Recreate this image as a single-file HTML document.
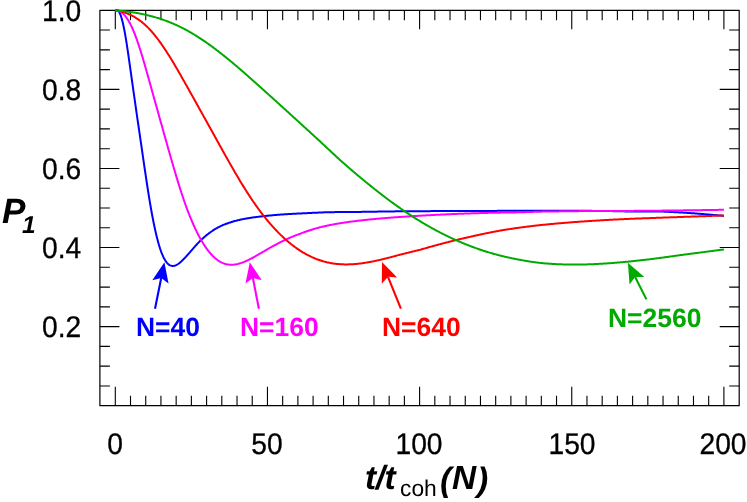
<!DOCTYPE html><html><head><meta charset="utf-8"><style>
html,body{margin:0;padding:0;background:#fff}
#c{position:relative;width:747px;height:502px;overflow:hidden;background:#fff;font-family:"Liberation Sans",sans-serif;color:#000}
.t{position:absolute;white-space:nowrap;line-height:1;text-rendering:geometricPrecision;will-change:transform}
.yl,.xl{-webkit-text-stroke:0.3px #000}
.yl{font-size:28.2px;right:666px;text-align:right;transform-origin:100% 84.65%;transform:scaleY(1.06)}
.xl{font-size:28.2px;transform-origin:0 84.65%;transform:translateX(-50%) scaleY(1.06)}
.nl{font-size:26.45px;font-weight:bold}
.bi{font-weight:bold;font-style:italic}
</style></head><body><div id="c">
<svg width="747" height="502" viewBox="0 0 747 502" style="position:absolute;left:0;top:0">
<path d="M115.30,10.30v19.00M115.30,405.70v-19.00M130.51,10.30v10.00M130.51,405.70v-10.00M145.73,10.30v10.00M145.73,405.70v-10.00M160.94,10.30v10.00M160.94,405.70v-10.00M176.16,10.30v10.00M176.16,405.70v-10.00M191.38,10.30v10.00M191.38,405.70v-10.00M206.59,10.30v10.00M206.59,405.70v-10.00M221.81,10.30v10.00M221.81,405.70v-10.00M237.02,10.30v10.00M237.02,405.70v-10.00M252.24,10.30v10.00M252.24,405.70v-10.00M267.45,10.30v19.00M267.45,405.70v-19.00M282.67,10.30v10.00M282.67,405.70v-10.00M297.88,10.30v10.00M297.88,405.70v-10.00M313.10,10.30v10.00M313.10,405.70v-10.00M328.31,10.30v10.00M328.31,405.70v-10.00M343.53,10.30v10.00M343.53,405.70v-10.00M358.74,10.30v10.00M358.74,405.70v-10.00M373.96,10.30v10.00M373.96,405.70v-10.00M389.17,10.30v10.00M389.17,405.70v-10.00M404.39,10.30v10.00M404.39,405.70v-10.00M419.60,10.30v19.00M419.60,405.70v-19.00M434.82,10.30v10.00M434.82,405.70v-10.00M450.03,10.30v10.00M450.03,405.70v-10.00M465.25,10.30v10.00M465.25,405.70v-10.00M480.46,10.30v10.00M480.46,405.70v-10.00M495.68,10.30v10.00M495.68,405.70v-10.00M510.89,10.30v10.00M510.89,405.70v-10.00M526.11,10.30v10.00M526.11,405.70v-10.00M541.32,10.30v10.00M541.32,405.70v-10.00M556.53,10.30v10.00M556.53,405.70v-10.00M571.75,10.30v19.00M571.75,405.70v-19.00M586.97,10.30v10.00M586.97,405.70v-10.00M602.18,10.30v10.00M602.18,405.70v-10.00M617.39,10.30v10.00M617.39,405.70v-10.00M632.61,10.30v10.00M632.61,405.70v-10.00M647.82,10.30v10.00M647.82,405.70v-10.00M663.04,10.30v10.00M663.04,405.70v-10.00M678.25,10.30v10.00M678.25,405.70v-10.00M693.47,10.30v10.00M693.47,405.70v-10.00M708.68,10.30v10.00M708.68,405.70v-10.00M723.90,10.30v19.00M723.90,405.70v-19.00M99.90,385.93h10.00M739.20,385.93h-10.00M99.90,366.16h10.00M739.20,366.16h-10.00M99.90,346.39h10.00M739.20,346.39h-10.00M99.90,326.62h19.50M739.20,326.62h-19.50M99.90,306.85h10.00M739.20,306.85h-10.00M99.90,287.08h10.00M739.20,287.08h-10.00M99.90,267.31h10.00M739.20,267.31h-10.00M99.90,247.54h19.50M739.20,247.54h-19.50M99.90,227.77h10.00M739.20,227.77h-10.00M99.90,208.00h10.00M739.20,208.00h-10.00M99.90,188.23h10.00M739.20,188.23h-10.00M99.90,168.46h19.50M739.20,168.46h-19.50M99.90,148.69h10.00M739.20,148.69h-10.00M99.90,128.92h10.00M739.20,128.92h-10.00M99.90,109.15h10.00M739.20,109.15h-10.00M99.90,89.38h19.50M739.20,89.38h-19.50M99.90,69.61h10.00M739.20,69.61h-10.00M99.90,49.84h10.00M739.20,49.84h-10.00M99.90,30.07h10.00M739.20,30.07h-10.00" stroke="#000" stroke-width="1.1" fill="none"/>
<rect x="99.90" y="10.30" width="639.30" height="395.40" fill="none" stroke="#000" stroke-width="1.2" stroke-linejoin="round"/>
<path d="M115.30,10.30 L116.06,10.30 L116.82,10.30 L117.58,10.30 L118.34,10.64 L119.10,11.74 L119.86,13.25 L120.63,15.15 L121.39,17.45 L122.15,20.14 L122.91,23.21 L123.67,26.67 L124.43,30.50 L125.19,34.68 L125.95,39.16 L126.71,43.91 L127.47,48.88 L128.23,54.02 L128.99,59.30 L129.75,64.67 L130.51,70.10 L131.28,75.55 L132.04,80.99 L132.80,86.42 L133.56,91.80 L134.32,97.15 L135.08,102.47 L135.84,107.75 L136.60,113.02 L137.36,118.27 L138.12,123.50 L138.88,128.73 L139.64,133.95 L140.40,139.18 L141.17,144.41 L141.93,149.64 L142.69,154.88 L143.45,160.11 L144.21,165.32 L144.97,170.51 L145.73,175.65 L146.49,180.73 L147.25,185.73 L148.01,190.64 L148.77,195.44 L149.53,200.11 L150.29,204.64 L151.06,209.01 L151.82,213.24 L152.58,217.30 L153.34,221.21 L154.10,224.96 L154.86,228.54 L155.62,231.96 L156.38,235.21 L157.14,238.28 L157.90,241.18 L158.66,243.91 L159.42,246.46 L160.18,248.83 L160.94,251.03 L161.71,253.07 L162.47,254.94 L163.23,256.65 L163.99,258.20 L164.75,259.60 L165.51,260.84 L166.27,261.94 L167.03,262.89 L167.79,263.70 L168.55,264.37 L169.31,264.91 L170.07,265.34 L170.83,265.64 L171.60,265.84 L172.36,265.94 L173.12,265.94 L173.88,265.85 L174.64,265.68 L175.40,265.43 L176.16,265.11 L176.92,264.72 L177.68,264.28 L178.44,263.77 L179.20,263.22 L179.96,262.61 L180.72,261.96 L181.49,261.28 L182.25,260.56 L183.01,259.81 L183.77,259.03 L184.53,258.24 L185.29,257.43 L186.05,256.60 L186.81,255.76 L187.57,254.91 L188.33,254.05 L189.09,253.19 L189.85,252.31 L190.61,251.44 L191.38,250.56 L192.14,249.68 L192.90,248.80 L193.66,247.93 L194.42,247.06 L195.18,246.20 L195.94,245.35 L196.70,244.52 L197.46,243.69 L198.22,242.88 L198.98,242.08 L199.74,241.29 L200.50,240.54 L201.26,239.81 L202.03,239.10 L202.79,238.41 L203.55,237.72 L204.31,237.05 L205.07,236.40 L205.83,235.76 L206.59,235.14 L207.35,234.53 L208.11,233.94 L208.87,233.36 L209.63,232.80 L210.39,232.25 L211.15,231.73 L211.92,231.22 L212.68,230.69 L213.44,230.18 L214.20,229.68 L214.96,229.21 L215.72,228.74 L216.48,228.30 L217.24,227.87 L218.00,227.45 L218.76,227.05 L219.52,226.67 L220.28,226.29 L221.04,225.93 L221.81,225.58 L222.57,225.25 L223.33,224.92 L224.09,224.61 L224.85,224.31 L225.61,224.01 L226.37,223.73 L227.13,223.45 L227.89,223.19 L228.65,222.93 L229.41,222.67 L230.17,222.43 L230.93,222.19 L231.69,221.95 L232.46,221.73 L233.22,221.51 L233.98,221.29 L234.74,221.08 L235.50,220.87 L236.26,220.67 L237.02,220.48 L237.78,220.29 L238.54,220.11 L239.30,219.93 L240.06,219.76 L240.82,219.59 L241.58,219.42 L242.35,219.26 L243.11,219.11 L243.87,218.96 L244.63,218.81 L245.39,218.67 L246.15,218.53 L246.91,218.40 L247.67,218.27 L248.43,218.14 L249.19,218.02 L249.95,217.90 L250.71,217.78 L251.47,217.67 L252.24,217.56 L253.00,217.45 L253.76,217.35 L254.52,217.25 L255.28,217.15 L256.04,217.06 L256.80,216.96 L257.56,216.87 L258.32,216.78 L259.08,216.70 L259.84,216.61 L260.60,216.52 L261.36,216.43 L262.12,216.34 L262.89,216.25 L263.65,216.17 L264.41,216.08 L265.17,216.00 L265.93,215.92 L266.69,215.84 L267.45,215.76 L268.21,215.68 L268.97,215.61 L269.73,215.53 L270.49,215.46 L271.25,215.39 L272.01,215.32 L272.78,215.25 L273.54,215.18 L274.30,215.11 L275.06,215.04 L275.82,214.98 L276.58,214.92 L277.34,214.85 L278.10,214.79 L278.86,214.73 L279.62,214.67 L280.38,214.61 L281.14,214.55 L281.90,214.50 L282.67,214.44 L283.43,214.38 L284.19,214.33 L284.95,214.27 L285.71,214.23 L286.47,214.18 L287.23,214.14 L287.99,214.10 L288.75,214.06 L289.51,214.01 L290.27,213.97 L291.03,213.93 L291.79,213.89 L292.55,213.85 L293.32,213.81 L294.08,213.77 L294.84,213.73 L295.60,213.70 L296.36,213.66 L297.12,213.62 L297.88,213.58 L298.64,213.54 L299.40,213.50 L300.16,213.47 L300.92,213.43 L301.68,213.39 L302.44,213.35 L303.21,213.31 L303.97,213.28 L304.73,213.24 L305.49,213.20 L306.25,213.16 L307.01,213.13 L307.77,213.09 L308.53,213.05 L309.29,213.02 L310.05,212.98 L310.81,212.94 L311.57,212.91 L312.33,212.87 L313.10,212.84 L313.86,212.80 L314.62,212.77 L315.38,212.73 L316.14,212.70 L316.90,212.66 L317.66,212.63 L318.42,212.60 L319.18,212.56 L319.94,212.53 L320.70,212.50 L321.46,212.46 L322.22,212.43 L322.98,212.40 L323.75,212.37 L324.51,212.34 L325.27,212.31 L326.03,212.28 L326.79,212.25 L327.55,212.22 L328.31,212.19 L329.07,212.18 L329.83,212.18 L330.59,212.17 L331.35,212.16 L332.11,212.15 L332.87,212.15 L333.64,212.14 L334.40,212.13 L335.16,212.12 L335.92,212.12 L336.68,212.11 L337.44,212.10 L338.20,212.09 L338.96,212.09 L339.72,212.08 L340.48,212.07 L341.24,212.07 L342.00,212.06 L342.76,212.05 L343.53,212.04 L344.29,212.04 L345.05,212.03 L345.81,212.02 L346.57,212.02 L347.33,212.01 L348.09,212.00 L348.85,211.99 L349.61,211.99 L350.37,211.98 L351.13,211.97 L351.89,211.97 L352.65,211.96 L353.41,211.95 L354.18,211.95 L354.94,211.94 L355.70,211.93 L356.46,211.93 L357.22,211.92 L357.98,211.91 L358.74,211.91 L359.50,211.90 L360.26,211.89 L361.02,211.88 L361.78,211.87 L362.54,211.86 L363.30,211.84 L364.07,211.83 L364.83,211.82 L365.59,211.81 L366.35,211.80 L367.11,211.78 L367.87,211.77 L368.63,211.76 L369.39,211.75 L370.15,211.74 L370.91,211.72 L371.67,211.71 L372.43,211.70 L373.19,211.69 L373.96,211.68 L374.72,211.67 L375.48,211.65 L376.24,211.64 L377.00,211.63 L377.76,211.62 L378.52,211.61 L379.28,211.60 L380.04,211.59 L380.80,211.57 L381.56,211.56 L382.32,211.55 L383.08,211.54 L383.84,211.53 L384.61,211.52 L385.37,211.51 L386.13,211.50 L386.89,211.48 L387.65,211.47 L388.41,211.46 L389.17,211.45 L389.93,211.44 L390.69,211.43 L391.45,211.42 L392.21,211.41 L392.97,211.40 L393.73,211.39 L394.50,211.38 L395.26,211.37 L396.02,211.36 L396.78,211.34 L397.54,211.33 L398.30,211.32 L399.06,211.31 L399.82,211.30 L400.58,211.30 L401.34,211.29 L402.10,211.29 L402.86,211.28 L403.62,211.28 L404.39,211.27 L405.15,211.27 L405.91,211.26 L406.67,211.26 L407.43,211.25 L408.19,211.25 L408.95,211.25 L409.71,211.24 L410.47,211.24 L411.23,211.23 L411.99,211.23 L412.75,211.22 L413.51,211.22 L414.27,211.21 L415.04,211.21 L415.80,211.21 L416.56,211.20 L417.32,211.20 L418.08,211.19 L418.84,211.19 L419.60,211.18 L420.36,211.18 L421.12,211.18 L421.88,211.17 L422.64,211.17 L423.40,211.16 L424.16,211.16 L424.93,211.16 L425.69,211.15 L426.45,211.15 L427.21,211.14 L427.97,211.14 L428.73,211.14 L429.49,211.13 L430.25,211.13 L431.01,211.12 L431.77,211.12 L432.53,211.12 L433.29,211.11 L434.05,211.11 L434.82,211.11 L435.58,211.10 L436.34,211.10 L437.10,211.09 L437.86,211.09 L438.62,211.09 L439.38,211.08 L440.14,211.08 L440.90,211.08 L441.66,211.07 L442.42,211.07 L443.18,211.07 L443.94,211.06 L444.70,211.06 L445.47,211.06 L446.23,211.05 L446.99,211.05 L447.75,211.05 L448.51,211.04 L449.27,211.04 L450.03,211.04 L450.79,211.03 L451.55,211.03 L452.31,211.03 L453.07,211.03 L453.83,211.02 L454.59,211.02 L455.36,211.02 L456.12,211.01 L456.88,211.01 L457.64,211.01 L458.40,211.01 L459.16,211.00 L459.92,211.00 L460.68,211.00 L461.44,211.00 L462.20,210.99 L462.96,210.99 L463.72,210.99 L464.48,210.98 L465.25,210.98 L466.01,210.98 L466.77,210.98 L467.53,210.97 L468.29,210.97 L469.05,210.97 L469.81,210.97 L470.57,210.96 L471.33,210.96 L472.09,210.96 L472.85,210.96 L473.61,210.95 L474.37,210.95 L475.13,210.95 L475.90,210.94 L476.66,210.94 L477.42,210.94 L478.18,210.94 L478.94,210.93 L479.70,210.93 L480.46,210.93 L481.22,210.93 L481.98,210.92 L482.74,210.92 L483.50,210.92 L484.26,210.92 L485.02,210.91 L485.79,210.91 L486.55,210.91 L487.31,210.91 L488.07,210.90 L488.83,210.90 L489.59,210.90 L490.35,210.90 L491.11,210.89 L491.87,210.89 L492.63,210.89 L493.39,210.89 L494.15,210.88 L494.91,210.88 L495.68,210.88 L496.44,210.88 L497.20,210.87 L497.96,210.87 L498.72,210.87 L499.48,210.87 L500.24,210.87 L501.00,210.86 L501.76,210.86 L502.52,210.86 L503.28,210.86 L504.04,210.85 L504.80,210.85 L505.56,210.85 L506.33,210.85 L507.09,210.85 L507.85,210.84 L508.61,210.84 L509.37,210.84 L510.13,210.84 L510.89,210.84 L511.65,210.84 L512.41,210.83 L513.17,210.83 L513.93,210.83 L514.69,210.83 L515.45,210.83 L516.22,210.83 L516.98,210.82 L517.74,210.82 L518.50,210.82 L519.26,210.82 L520.02,210.82 L520.78,210.82 L521.54,210.82 L522.30,210.81 L523.06,210.81 L523.82,210.81 L524.58,210.81 L525.34,210.81 L526.11,210.81 L526.87,210.81 L527.63,210.81 L528.39,210.81 L529.15,210.81 L529.91,210.80 L530.67,210.80 L531.43,210.80 L532.19,210.80 L532.95,210.80 L533.71,210.80 L534.47,210.80 L535.23,210.80 L535.99,210.80 L536.76,210.80 L537.52,210.80 L538.28,210.80 L539.04,210.80 L539.80,210.80 L540.56,210.80 L541.32,210.80 L542.08,210.80 L542.84,210.80 L543.60,210.80 L544.36,210.80 L545.12,210.80 L545.88,210.80 L546.65,210.80 L547.41,210.80 L548.17,210.80 L548.93,210.80 L549.69,210.80 L550.45,210.80 L551.21,210.80 L551.97,210.80 L552.73,210.80 L553.49,210.80 L554.25,210.81 L555.01,210.81 L555.77,210.81 L556.53,210.81 L557.30,210.81 L558.06,210.81 L558.82,210.81 L559.58,210.81 L560.34,210.81 L561.10,210.81 L561.86,210.81 L562.62,210.81 L563.38,210.81 L564.14,210.82 L564.90,210.82 L565.66,210.82 L566.42,210.82 L567.19,210.82 L567.95,210.82 L568.71,210.82 L569.47,210.82 L570.23,210.82 L570.99,210.83 L571.75,210.83 L572.51,210.83 L573.27,210.83 L574.03,210.83 L574.79,210.83 L575.55,210.83 L576.31,210.84 L577.08,210.84 L577.84,210.84 L578.60,210.84 L579.36,210.84 L580.12,210.84 L580.88,210.85 L581.64,210.85 L582.40,210.85 L583.16,210.85 L583.92,210.85 L584.68,210.85 L585.44,210.86 L586.20,210.86 L586.97,210.86 L587.73,210.86 L588.49,210.86 L589.25,210.87 L590.01,210.87 L590.77,210.87 L591.53,210.87 L592.29,210.88 L593.05,210.88 L593.81,210.88 L594.57,210.88 L595.33,210.88 L596.09,210.89 L596.85,210.89 L597.62,210.89 L598.38,210.89 L599.14,210.90 L599.90,210.90 L600.66,210.90 L601.42,210.91 L602.18,210.91 L602.94,210.92 L603.70,210.93 L604.46,210.94 L605.22,210.96 L605.98,210.97 L606.74,210.98 L607.51,211.00 L608.27,211.02 L609.03,211.03 L609.79,211.05 L610.55,211.07 L611.31,211.09 L612.07,211.11 L612.83,211.13 L613.59,211.15 L614.35,211.16 L615.11,211.18 L615.87,211.20 L616.63,211.22 L617.39,211.24 L618.16,211.26 L618.92,211.28 L619.68,211.29 L620.44,211.31 L621.20,211.32 L621.96,211.34 L622.72,211.35 L623.48,211.36 L624.24,211.37 L625.00,211.38 L625.76,211.39 L626.52,211.40 L627.28,211.40 L628.05,211.41 L628.81,211.41 L629.57,211.41 L630.33,211.42 L631.09,211.42 L631.85,211.42 L632.61,211.42 L633.37,211.43 L634.13,211.43 L634.89,211.43 L635.65,211.43 L636.41,211.43 L637.17,211.44 L637.94,211.44 L638.70,211.44 L639.46,211.44 L640.22,211.44 L640.98,211.44 L641.74,211.44 L642.50,211.45 L643.26,211.45 L644.02,211.45 L644.78,211.45 L645.54,211.45 L646.30,211.45 L647.06,211.45 L647.82,211.46 L648.59,211.46 L649.35,211.46 L650.11,211.46 L650.87,211.46 L651.63,211.47 L652.39,211.47 L653.15,211.47 L653.91,211.47 L654.67,211.48 L655.43,211.48 L656.19,211.48 L656.95,211.49 L657.71,211.49 L658.48,211.50 L659.24,211.50 L660.00,211.51 L660.76,211.52 L661.52,211.54 L662.28,211.56 L663.04,211.58 L663.80,211.61 L664.56,211.64 L665.32,211.67 L666.08,211.71 L666.84,211.75 L667.60,211.79 L668.37,211.83 L669.13,211.87 L669.89,211.91 L670.65,211.95 L671.41,212.00 L672.17,212.04 L672.93,212.08 L673.69,212.12 L674.45,212.16 L675.21,212.20 L675.97,212.24 L676.73,212.28 L677.49,212.32 L678.25,212.36 L679.02,212.40 L679.78,212.44 L680.54,212.48 L681.30,212.53 L682.06,212.57 L682.82,212.62 L683.58,212.66 L684.34,212.71 L685.10,212.75 L685.86,212.80 L686.62,212.85 L687.38,212.89 L688.14,212.94 L688.91,212.99 L689.67,213.04 L690.43,213.09 L691.19,213.14 L691.95,213.19 L692.71,213.25 L693.47,213.30 L694.23,213.36 L694.99,213.41 L695.75,213.47 L696.51,213.53 L697.27,213.58 L698.03,213.64 L698.80,213.70 L699.56,213.76 L700.32,213.82 L701.08,213.88 L701.84,213.95 L702.60,214.01 L703.36,214.07 L704.12,214.13 L704.88,214.20 L705.64,214.26 L706.40,214.32 L707.16,214.39 L707.92,214.45 L708.68,214.52 L709.45,214.58 L710.21,214.65 L710.97,214.71 L711.73,214.78 L712.49,214.85 L713.25,214.91 L714.01,214.98 L714.77,215.05 L715.53,215.12 L716.29,215.19 L717.05,215.26 L717.81,215.33 L718.57,215.40 L719.34,215.47 L720.10,215.54 L720.86,215.61 L721.62,215.68 L722.38,215.75 L723.14,215.83 L723.90,215.90" stroke="#0000ff" stroke-width="2.0" fill="none" stroke-linejoin="round"/>
<path d="M115.30,10.30 L116.06,10.32 L116.82,10.41 L117.58,10.56 L118.34,10.78 L119.10,11.07 L119.86,11.43 L120.63,11.87 L121.39,12.37 L122.15,12.95 L122.91,13.60 L123.67,14.32 L124.43,15.13 L125.19,16.00 L125.95,16.96 L126.71,18.00 L127.47,19.11 L128.23,20.31 L128.99,21.59 L129.75,22.94 L130.51,24.39 L131.28,25.92 L132.04,27.53 L132.80,29.24 L133.56,31.02 L134.32,32.89 L135.08,34.84 L135.84,36.87 L136.60,38.96 L137.36,41.13 L138.12,43.35 L138.88,45.64 L139.64,47.98 L140.40,50.38 L141.17,52.82 L141.93,55.31 L142.69,57.84 L143.45,60.40 L144.21,63.00 L144.97,65.63 L145.73,68.29 L146.49,70.96 L147.25,73.65 L148.01,76.36 L148.77,79.08 L149.53,81.80 L150.29,84.53 L151.06,87.26 L151.82,89.98 L152.58,92.71 L153.34,95.43 L154.10,98.16 L154.86,100.88 L155.62,103.61 L156.38,106.33 L157.14,109.05 L157.90,111.77 L158.66,114.49 L159.42,117.21 L160.18,119.93 L160.94,122.64 L161.71,125.35 L162.47,128.06 L163.23,130.77 L163.99,133.48 L164.75,136.18 L165.51,138.88 L166.27,141.58 L167.03,144.27 L167.79,146.96 L168.55,149.65 L169.31,152.33 L170.07,155.00 L170.83,157.67 L171.60,160.32 L172.36,162.95 L173.12,165.58 L173.88,168.18 L174.64,170.77 L175.40,173.33 L176.16,175.88 L176.92,178.40 L177.68,180.89 L178.44,183.36 L179.20,185.80 L179.96,188.21 L180.72,190.59 L181.49,192.94 L182.25,195.25 L183.01,197.52 L183.77,199.76 L184.53,201.96 L185.29,204.12 L186.05,206.24 L186.81,208.32 L187.57,210.35 L188.33,212.35 L189.09,214.30 L189.85,216.22 L190.61,218.09 L191.38,219.93 L192.14,221.73 L192.90,223.48 L193.66,225.20 L194.42,226.88 L195.18,228.52 L195.94,230.12 L196.70,231.68 L197.46,233.21 L198.22,234.69 L198.98,236.14 L199.74,237.55 L200.50,238.92 L201.26,240.25 L202.03,241.55 L202.79,242.81 L203.55,244.03 L204.31,245.22 L205.07,246.36 L205.83,247.47 L206.59,248.55 L207.35,249.59 L208.11,250.59 L208.87,251.55 L209.63,252.48 L210.39,253.38 L211.15,254.23 L211.92,255.06 L212.68,255.84 L213.44,256.60 L214.20,257.31 L214.96,257.99 L215.72,258.64 L216.48,259.25 L217.24,259.83 L218.00,260.37 L218.76,260.88 L219.52,261.36 L220.28,261.80 L221.04,262.20 L221.81,262.58 L222.57,262.92 L223.33,263.23 L224.09,263.51 L224.85,263.76 L225.61,263.98 L226.37,264.17 L227.13,264.33 L227.89,264.47 L228.65,264.58 L229.41,264.65 L230.17,264.71 L230.93,264.74 L231.69,264.74 L232.46,264.72 L233.22,264.67 L233.98,264.60 L234.74,264.51 L235.50,264.40 L236.26,264.27 L237.02,264.12 L237.78,263.95 L238.54,263.76 L239.30,263.55 L240.06,263.33 L240.82,263.09 L241.58,262.84 L242.35,262.57 L243.11,262.28 L243.87,261.99 L244.63,261.68 L245.39,261.35 L246.15,261.02 L246.91,260.68 L247.67,260.32 L248.43,259.96 L249.19,259.58 L249.95,259.20 L250.71,258.81 L251.47,258.41 L252.24,258.01 L253.00,257.60 L253.76,257.18 L254.52,256.76 L255.28,256.34 L256.04,255.91 L256.80,255.48 L257.56,255.05 L258.32,254.61 L259.08,254.17 L259.84,253.73 L260.60,253.29 L261.36,252.84 L262.12,252.40 L262.89,251.95 L263.65,251.50 L264.41,251.05 L265.17,250.61 L265.93,250.16 L266.69,249.71 L267.45,249.26 L268.21,248.82 L268.97,248.37 L269.73,247.93 L270.49,247.50 L271.25,247.07 L272.01,246.65 L272.78,246.24 L273.54,245.82 L274.30,245.41 L275.06,245.00 L275.82,244.59 L276.58,244.19 L277.34,243.79 L278.10,243.40 L278.86,243.00 L279.62,242.62 L280.38,242.23 L281.14,241.85 L281.90,241.47 L282.67,241.10 L283.43,240.73 L284.19,240.37 L284.95,240.00 L285.71,239.65 L286.47,239.29 L287.23,238.94 L287.99,238.60 L288.75,238.25 L289.51,237.92 L290.27,237.58 L291.03,237.27 L291.79,236.95 L292.55,236.64 L293.32,236.33 L294.08,236.03 L294.84,235.73 L295.60,235.43 L296.36,235.14 L297.12,234.85 L297.88,234.57 L298.64,234.29 L299.40,234.02 L300.16,233.74 L300.92,233.44 L301.68,233.15 L302.44,232.86 L303.21,232.57 L303.97,232.29 L304.73,232.01 L305.49,231.74 L306.25,231.47 L307.01,231.21 L307.77,230.95 L308.53,230.69 L309.29,230.44 L310.05,230.19 L310.81,229.95 L311.57,229.71 L312.33,229.47 L313.10,229.24 L313.86,229.01 L314.62,228.79 L315.38,228.57 L316.14,228.36 L316.90,228.15 L317.66,227.94 L318.42,227.74 L319.18,227.54 L319.94,227.34 L320.70,227.15 L321.46,226.96 L322.22,226.78 L322.98,226.59 L323.75,226.41 L324.51,226.24 L325.27,226.07 L326.03,225.90 L326.79,225.73 L327.55,225.57 L328.31,225.41 L329.07,225.25 L329.83,225.10 L330.59,224.94 L331.35,224.79 L332.11,224.65 L332.87,224.50 L333.64,224.36 L334.40,224.22 L335.16,224.08 L335.92,223.95 L336.68,223.82 L337.44,223.69 L338.20,223.56 L338.96,223.43 L339.72,223.31 L340.48,223.19 L341.24,223.06 L342.00,222.95 L342.76,222.83 L343.53,222.71 L344.29,222.60 L345.05,222.49 L345.81,222.37 L346.57,222.26 L347.33,222.16 L348.09,222.05 L348.85,221.94 L349.61,221.84 L350.37,221.73 L351.13,221.63 L351.89,221.53 L352.65,221.43 L353.41,221.33 L354.18,221.23 L354.94,221.14 L355.70,221.04 L356.46,220.95 L357.22,220.85 L357.98,220.76 L358.74,220.67 L359.50,220.58 L360.26,220.49 L361.02,220.41 L361.78,220.32 L362.54,220.23 L363.30,220.15 L364.07,220.06 L364.83,219.98 L365.59,219.90 L366.35,219.82 L367.11,219.74 L367.87,219.66 L368.63,219.58 L369.39,219.50 L370.15,219.43 L370.91,219.35 L371.67,219.28 L372.43,219.20 L373.19,219.13 L373.96,219.06 L374.72,218.99 L375.48,218.92 L376.24,218.85 L377.00,218.78 L377.76,218.71 L378.52,218.64 L379.28,218.58 L380.04,218.51 L380.80,218.44 L381.56,218.38 L382.32,218.32 L383.08,218.25 L383.84,218.19 L384.61,218.13 L385.37,218.07 L386.13,218.01 L386.89,217.95 L387.65,217.89 L388.41,217.83 L389.17,217.77 L389.93,217.71 L390.69,217.65 L391.45,217.59 L392.21,217.54 L392.97,217.48 L393.73,217.43 L394.50,217.37 L395.26,217.32 L396.02,217.26 L396.78,217.21 L397.54,217.16 L398.30,217.10 L399.06,217.05 L399.82,217.00 L400.58,216.95 L401.34,216.89 L402.10,216.84 L402.86,216.79 L403.62,216.74 L404.39,216.69 L405.15,216.64 L405.91,216.59 L406.67,216.54 L407.43,216.49 L408.19,216.44 L408.95,216.39 L409.71,216.35 L410.47,216.30 L411.23,216.25 L411.99,216.20 L412.75,216.16 L413.51,216.11 L414.27,216.06 L415.04,216.02 L415.80,215.97 L416.56,215.92 L417.32,215.88 L418.08,215.83 L418.84,215.79 L419.60,215.74 L420.36,215.70 L421.12,215.65 L421.88,215.61 L422.64,215.57 L423.40,215.52 L424.16,215.48 L424.93,215.44 L425.69,215.40 L426.45,215.35 L427.21,215.31 L427.97,215.27 L428.73,215.23 L429.49,215.19 L430.25,215.15 L431.01,215.11 L431.77,215.07 L432.53,215.03 L433.29,214.99 L434.05,214.95 L434.82,214.91 L435.58,214.87 L436.34,214.83 L437.10,214.79 L437.86,214.76 L438.62,214.72 L439.38,214.68 L440.14,214.64 L440.90,214.61 L441.66,214.57 L442.42,214.53 L443.18,214.50 L443.94,214.46 L444.70,214.43 L445.47,214.39 L446.23,214.36 L446.99,214.32 L447.75,214.29 L448.51,214.25 L449.27,214.22 L450.03,214.19 L450.79,214.15 L451.55,214.12 L452.31,214.09 L453.07,214.06 L453.83,214.03 L454.59,213.99 L455.36,213.96 L456.12,213.93 L456.88,213.90 L457.64,213.87 L458.40,213.84 L459.16,213.81 L459.92,213.78 L460.68,213.75 L461.44,213.72 L462.20,213.69 L462.96,213.67 L463.72,213.64 L464.48,213.61 L465.25,213.58 L466.01,213.56 L466.77,213.53 L467.53,213.50 L468.29,213.48 L469.05,213.45 L469.81,213.42 L470.57,213.40 L471.33,213.37 L472.09,213.35 L472.85,213.32 L473.61,213.30 L474.37,213.27 L475.13,213.25 L475.90,213.23 L476.66,213.20 L477.42,213.18 L478.18,213.16 L478.94,213.14 L479.70,213.11 L480.46,213.09 L481.22,213.07 L481.98,213.05 L482.74,213.03 L483.50,213.01 L484.26,212.99 L485.02,212.97 L485.79,212.95 L486.55,212.93 L487.31,212.91 L488.07,212.89 L488.83,212.87 L489.59,212.86 L490.35,212.84 L491.11,212.82 L491.87,212.80 L492.63,212.79 L493.39,212.77 L494.15,212.75 L494.91,212.74 L495.68,212.72 L496.44,212.70 L497.20,212.69 L497.96,212.67 L498.72,212.66 L499.48,212.64 L500.24,212.63 L501.00,212.61 L501.76,212.60 L502.52,212.59 L503.28,212.57 L504.04,212.56 L504.80,212.55 L505.56,212.53 L506.33,212.52 L507.09,212.51 L507.85,212.50 L508.61,212.48 L509.37,212.47 L510.13,212.46 L510.89,212.45 L511.65,212.44 L512.41,212.43 L513.17,212.42 L513.93,212.41 L514.69,212.40 L515.45,212.39 L516.22,212.38 L516.98,212.37 L517.74,212.36 L518.50,212.35 L519.26,212.34 L520.02,212.33 L520.78,212.30 L521.54,212.27 L522.30,212.25 L523.06,212.22 L523.82,212.19 L524.58,212.17 L525.34,212.14 L526.11,212.11 L526.87,212.09 L527.63,212.06 L528.39,212.03 L529.15,212.01 L529.91,211.98 L530.67,211.96 L531.43,211.93 L532.19,211.91 L532.95,211.88 L533.71,211.86 L534.47,211.83 L535.23,211.81 L535.99,211.78 L536.76,211.76 L537.52,211.73 L538.28,211.71 L539.04,211.69 L539.80,211.66 L540.56,211.65 L541.32,211.63 L542.08,211.62 L542.84,211.61 L543.60,211.60 L544.36,211.59 L545.12,211.58 L545.88,211.56 L546.65,211.55 L547.41,211.54 L548.17,211.53 L548.93,211.52 L549.69,211.51 L550.45,211.50 L551.21,211.49 L551.97,211.47 L552.73,211.46 L553.49,211.45 L554.25,211.44 L555.01,211.43 L555.77,211.42 L556.53,211.41 L557.30,211.40 L558.06,211.39 L558.82,211.38 L559.58,211.37 L560.34,211.36 L561.10,211.35 L561.86,211.34 L562.62,211.33 L563.38,211.32 L564.14,211.31 L564.90,211.30 L565.66,211.29 L566.42,211.28 L567.19,211.27 L567.95,211.26 L568.71,211.25 L569.47,211.24 L570.23,211.23 L570.99,211.22 L571.75,211.22 L572.51,211.21 L573.27,211.20 L574.03,211.19 L574.79,211.18 L575.55,211.17 L576.31,211.16 L577.08,211.15 L577.84,211.14 L578.60,211.13 L579.36,211.12 L580.12,211.11 L580.88,211.11 L581.64,211.11 L582.40,211.11 L583.16,211.11 L583.92,211.11 L584.68,211.10 L585.44,211.10 L586.20,211.10 L586.97,211.10 L587.73,211.10 L588.49,211.09 L589.25,211.09 L590.01,211.09 L590.77,211.09 L591.53,211.09 L592.29,211.08 L593.05,211.08 L593.81,211.08 L594.57,211.08 L595.33,211.08 L596.09,211.07 L596.85,211.07 L597.62,211.07 L598.38,211.07 L599.14,211.06 L599.90,211.06 L600.66,211.06 L601.42,211.06 L602.18,211.05 L602.94,211.05 L603.70,211.05 L604.46,211.04 L605.22,211.04 L605.98,211.04 L606.74,211.03 L607.51,211.03 L608.27,211.03 L609.03,211.02 L609.79,211.02 L610.55,211.02 L611.31,211.01 L612.07,211.01 L612.83,211.01 L613.59,211.00 L614.35,211.00 L615.11,210.99 L615.87,210.99 L616.63,210.99 L617.39,210.98 L618.16,210.98 L618.92,210.97 L619.68,210.97 L620.44,210.96 L621.20,210.96 L621.96,210.96 L622.72,210.95 L623.48,210.95 L624.24,210.94 L625.00,210.94 L625.76,210.93 L626.52,210.93 L627.28,210.92 L628.05,210.92 L628.81,210.91 L629.57,210.91 L630.33,210.90 L631.09,210.90 L631.85,210.89 L632.61,210.88 L633.37,210.88 L634.13,210.87 L634.89,210.87 L635.65,210.86 L636.41,210.86 L637.17,210.85 L637.94,210.84 L638.70,210.84 L639.46,210.83 L640.22,210.83 L640.98,210.82 L641.74,210.81 L642.50,210.81 L643.26,210.80 L644.02,210.79 L644.78,210.79 L645.54,210.78 L646.30,210.77 L647.06,210.77 L647.82,210.76 L648.59,210.75 L649.35,210.75 L650.11,210.74 L650.87,210.73 L651.63,210.73 L652.39,210.72 L653.15,210.71 L653.91,210.70 L654.67,210.70 L655.43,210.69 L656.19,210.68 L656.95,210.67 L657.71,210.67 L658.48,210.66 L659.24,210.65 L660.00,210.64 L660.76,210.64 L661.52,210.63 L662.28,210.62 L663.04,210.61 L663.80,210.60 L664.56,210.60 L665.32,210.59 L666.08,210.58 L666.84,210.57 L667.60,210.56 L668.37,210.55 L669.13,210.55 L669.89,210.54 L670.65,210.53 L671.41,210.52 L672.17,210.51 L672.93,210.50 L673.69,210.49 L674.45,210.48 L675.21,210.48 L675.97,210.47 L676.73,210.46 L677.49,210.45 L678.25,210.44 L679.02,210.43 L679.78,210.42 L680.54,210.41 L681.30,210.40 L682.06,210.39 L682.82,210.38 L683.58,210.37 L684.34,210.36 L685.10,210.35 L685.86,210.34 L686.62,210.33 L687.38,210.32 L688.14,210.31 L688.91,210.30 L689.67,210.29 L690.43,210.28 L691.19,210.27 L691.95,210.26 L692.71,210.25 L693.47,210.24 L694.23,210.23 L694.99,210.22 L695.75,210.21 L696.51,210.20 L697.27,210.19 L698.03,210.18 L698.80,210.17 L699.56,210.16 L700.32,210.15 L701.08,210.14 L701.84,210.13 L702.60,210.11 L703.36,210.10 L704.12,210.09 L704.88,210.08 L705.64,210.07 L706.40,210.06 L707.16,210.05 L707.92,210.04 L708.68,210.02 L709.45,210.01 L710.21,210.00 L710.97,209.99 L711.73,209.98 L712.49,209.97 L713.25,209.95 L714.01,209.94 L714.77,209.93 L715.53,209.92 L716.29,209.91 L717.05,209.90 L717.81,209.88 L718.57,209.87 L719.34,209.86 L720.10,209.85 L720.86,209.83 L721.62,209.82 L722.38,209.81 L723.14,209.80 L723.90,209.79" stroke="#ff00ff" stroke-width="2.0" fill="none" stroke-linejoin="round"/>
<path d="M115.30,10.30 L116.06,10.42 L116.82,10.55 L117.58,10.68 L118.34,10.84 L119.10,11.00 L119.86,11.17 L120.63,11.35 L121.39,11.55 L122.15,11.76 L122.91,11.98 L123.67,12.21 L124.43,12.45 L125.19,12.71 L125.95,12.98 L126.71,13.27 L127.47,13.57 L128.23,13.88 L128.99,14.21 L129.75,14.55 L130.51,14.90 L131.28,15.27 L132.04,15.66 L132.80,16.06 L133.56,16.48 L134.32,16.91 L135.08,17.36 L135.84,17.82 L136.60,18.30 L137.36,18.80 L138.12,19.31 L138.88,19.84 L139.64,20.39 L140.40,20.96 L141.17,21.54 L141.93,22.15 L142.69,22.77 L143.45,23.41 L144.21,24.06 L144.97,24.74 L145.73,25.44 L146.49,26.15 L147.25,26.89 L148.01,27.64 L148.77,28.42 L149.53,29.21 L150.29,30.03 L151.06,30.87 L151.82,31.72 L152.58,32.60 L153.34,33.49 L154.10,34.41 L154.86,35.34 L155.62,36.29 L156.38,37.26 L157.14,38.25 L157.90,39.25 L158.66,40.27 L159.42,41.31 L160.18,42.36 L160.94,43.43 L161.71,44.51 L162.47,45.61 L163.23,46.72 L163.99,47.85 L164.75,48.99 L165.51,50.14 L166.27,51.31 L167.03,52.48 L167.79,53.67 L168.55,54.88 L169.31,56.09 L170.07,57.31 L170.83,58.55 L171.60,59.79 L172.36,61.05 L173.12,62.31 L173.88,63.59 L174.64,64.87 L175.40,66.16 L176.16,67.46 L176.92,68.76 L177.68,70.07 L178.44,71.39 L179.20,72.71 L179.96,74.04 L180.72,75.37 L181.49,76.71 L182.25,78.05 L183.01,79.39 L183.77,80.73 L184.53,82.08 L185.29,83.43 L186.05,84.78 L186.81,86.13 L187.57,87.48 L188.33,88.84 L189.09,90.19 L189.85,91.55 L190.61,92.90 L191.38,94.26 L192.14,95.62 L192.90,96.98 L193.66,98.34 L194.42,99.71 L195.18,101.07 L195.94,102.43 L196.70,103.80 L197.46,105.17 L198.22,106.53 L198.98,107.90 L199.74,109.27 L200.50,110.64 L201.26,112.01 L202.03,113.38 L202.79,114.75 L203.55,116.12 L204.31,117.49 L205.07,118.86 L205.83,120.24 L206.59,121.61 L207.35,122.98 L208.11,124.35 L208.87,125.73 L209.63,127.10 L210.39,128.47 L211.15,129.85 L211.92,131.22 L212.68,132.59 L213.44,133.97 L214.20,135.34 L214.96,136.71 L215.72,138.09 L216.48,139.46 L217.24,140.83 L218.00,142.20 L218.76,143.58 L219.52,144.95 L220.28,146.32 L221.04,147.69 L221.81,149.05 L222.57,150.42 L223.33,151.79 L224.09,153.15 L224.85,154.51 L225.61,155.87 L226.37,157.23 L227.13,158.58 L227.89,159.93 L228.65,161.27 L229.41,162.62 L230.17,163.95 L230.93,165.29 L231.69,166.62 L232.46,167.94 L233.22,169.26 L233.98,170.58 L234.74,171.89 L235.50,173.19 L236.26,174.49 L237.02,175.78 L237.78,177.07 L238.54,178.35 L239.30,179.62 L240.06,180.89 L240.82,182.15 L241.58,183.40 L242.35,184.64 L243.11,185.88 L243.87,187.11 L244.63,188.33 L245.39,189.55 L246.15,190.75 L246.91,191.95 L247.67,193.14 L248.43,194.31 L249.19,195.48 L249.95,196.64 L250.71,197.79 L251.47,198.94 L252.24,200.07 L253.00,201.19 L253.76,202.30 L254.52,203.40 L255.28,204.48 L256.04,205.56 L256.80,206.63 L257.56,207.69 L258.32,208.74 L259.08,209.77 L259.84,210.80 L260.60,211.81 L261.36,212.82 L262.12,213.81 L262.89,214.80 L263.65,215.77 L264.41,216.74 L265.17,217.69 L265.93,218.63 L266.69,219.57 L267.45,220.49 L268.21,221.40 L268.97,222.30 L269.73,223.19 L270.49,224.08 L271.25,224.95 L272.01,225.81 L272.78,226.66 L273.54,227.50 L274.30,228.33 L275.06,229.15 L275.82,229.96 L276.58,230.76 L277.34,231.55 L278.10,232.33 L278.86,233.10 L279.62,233.86 L280.38,234.61 L281.14,235.35 L281.90,236.08 L282.67,236.80 L283.43,237.51 L284.19,238.21 L284.95,238.90 L285.71,239.58 L286.47,240.25 L287.23,240.91 L287.99,241.56 L288.75,242.20 L289.51,242.83 L290.27,243.45 L291.03,244.06 L291.79,244.66 L292.55,245.25 L293.32,245.83 L294.08,246.41 L294.84,246.97 L295.60,247.52 L296.36,248.06 L297.12,248.60 L297.88,249.12 L298.64,249.63 L299.40,250.14 L300.16,250.63 L300.92,251.12 L301.68,251.60 L302.44,252.06 L303.21,252.52 L303.97,252.97 L304.73,253.41 L305.49,253.84 L306.25,254.26 L307.01,254.67 L307.77,255.07 L308.53,255.47 L309.29,255.85 L310.05,256.23 L310.81,256.59 L311.57,256.95 L312.33,257.30 L313.10,257.64 L313.86,257.96 L314.62,258.29 L315.38,258.60 L316.14,258.90 L316.90,259.20 L317.66,259.48 L318.42,259.76 L319.18,260.03 L319.94,260.29 L320.70,260.54 L321.46,260.78 L322.22,261.01 L322.98,261.24 L323.75,261.45 L324.51,261.66 L325.27,261.86 L326.03,262.05 L326.79,262.24 L327.55,262.41 L328.31,262.58 L329.07,262.74 L329.83,262.89 L330.59,263.03 L331.35,263.17 L332.11,263.30 L332.87,263.42 L333.64,263.53 L334.40,263.64 L335.16,263.74 L335.92,263.83 L336.68,263.91 L337.44,263.99 L338.20,264.06 L338.96,264.12 L339.72,264.18 L340.48,264.23 L341.24,264.28 L342.00,264.31 L342.76,264.34 L343.53,264.37 L344.29,264.39 L345.05,264.40 L345.81,264.40 L346.57,264.40 L347.33,264.40 L348.09,264.39 L348.85,264.37 L349.61,264.35 L350.37,264.32 L351.13,264.28 L351.89,264.25 L352.65,264.20 L353.41,264.15 L354.18,264.10 L354.94,264.04 L355.70,263.97 L356.46,263.90 L357.22,263.83 L357.98,263.75 L358.74,263.67 L359.50,263.58 L360.26,263.49 L361.02,263.40 L361.78,263.30 L362.54,263.19 L363.30,263.08 L364.07,262.97 L364.83,262.86 L365.59,262.74 L366.35,262.62 L367.11,262.49 L367.87,262.36 L368.63,262.23 L369.39,262.09 L370.15,261.95 L370.91,261.80 L371.67,261.66 L372.43,261.51 L373.19,261.36 L373.96,261.20 L374.72,261.04 L375.48,260.88 L376.24,260.72 L377.00,260.55 L377.76,260.38 L378.52,260.21 L379.28,260.04 L380.04,259.86 L380.80,259.68 L381.56,259.50 L382.32,259.32 L383.08,259.14 L383.84,258.95 L384.61,258.76 L385.37,258.57 L386.13,258.38 L386.89,258.19 L387.65,257.99 L388.41,257.80 L389.17,257.60 L389.93,257.40 L390.69,257.20 L391.45,257.00 L392.21,256.80 L392.97,256.59 L393.73,256.39 L394.50,256.18 L395.26,255.98 L396.02,255.77 L396.78,255.56 L397.54,255.35 L398.30,255.14 L399.06,254.93 L399.82,254.72 L400.58,254.54 L401.34,254.35 L402.10,254.17 L402.86,253.99 L403.62,253.80 L404.39,253.62 L405.15,253.44 L405.91,253.25 L406.67,253.06 L407.43,252.88 L408.19,252.69 L408.95,252.51 L409.71,252.32 L410.47,252.13 L411.23,251.94 L411.99,251.76 L412.75,251.57 L413.51,251.38 L414.27,251.19 L415.04,251.01 L415.80,250.82 L416.56,250.63 L417.32,250.44 L418.08,250.25 L418.84,250.07 L419.60,249.88 L420.36,249.68 L421.12,249.46 L421.88,249.24 L422.64,249.02 L423.40,248.81 L424.16,248.59 L424.93,248.37 L425.69,248.16 L426.45,247.94 L427.21,247.73 L427.97,247.51 L428.73,247.30 L429.49,247.08 L430.25,246.87 L431.01,246.66 L431.77,246.45 L432.53,246.24 L433.29,246.02 L434.05,245.81 L434.82,245.60 L435.58,245.40 L436.34,245.19 L437.10,244.98 L437.86,244.77 L438.62,244.57 L439.38,244.36 L440.14,244.16 L440.90,243.96 L441.66,243.75 L442.42,243.55 L443.18,243.35 L443.94,243.15 L444.70,242.95 L445.47,242.76 L446.23,242.56 L446.99,242.36 L447.75,242.17 L448.51,241.97 L449.27,241.78 L450.03,241.59 L450.79,241.39 L451.55,241.20 L452.31,241.01 L453.07,240.82 L453.83,240.64 L454.59,240.45 L455.36,240.26 L456.12,240.08 L456.88,239.89 L457.64,239.71 L458.40,239.52 L459.16,239.34 L459.92,239.16 L460.68,238.98 L461.44,238.80 L462.20,238.62 L462.96,238.44 L463.72,238.27 L464.48,238.09 L465.25,237.92 L466.01,237.74 L466.77,237.57 L467.53,237.40 L468.29,237.23 L469.05,237.06 L469.81,236.89 L470.57,236.71 L471.33,236.54 L472.09,236.36 L472.85,236.19 L473.61,236.02 L474.37,235.85 L475.13,235.68 L475.90,235.51 L476.66,235.34 L477.42,235.17 L478.18,235.00 L478.94,234.84 L479.70,234.67 L480.46,234.51 L481.22,234.35 L481.98,234.19 L482.74,234.03 L483.50,233.87 L484.26,233.71 L485.02,233.55 L485.79,233.39 L486.55,233.24 L487.31,233.08 L488.07,232.93 L488.83,232.78 L489.59,232.62 L490.35,232.47 L491.11,232.32 L491.87,232.17 L492.63,232.03 L493.39,231.88 L494.15,231.73 L494.91,231.59 L495.68,231.44 L496.44,231.30 L497.20,231.16 L497.96,231.02 L498.72,230.88 L499.48,230.74 L500.24,230.61 L501.00,230.48 L501.76,230.35 L502.52,230.22 L503.28,230.10 L504.04,229.97 L504.80,229.85 L505.56,229.72 L506.33,229.60 L507.09,229.48 L507.85,229.36 L508.61,229.24 L509.37,229.13 L510.13,229.01 L510.89,228.89 L511.65,228.78 L512.41,228.67 L513.17,228.55 L513.93,228.44 L514.69,228.33 L515.45,228.22 L516.22,228.11 L516.98,228.01 L517.74,227.90 L518.50,227.79 L519.26,227.69 L520.02,227.59 L520.78,227.48 L521.54,227.38 L522.30,227.28 L523.06,227.18 L523.82,227.08 L524.58,226.98 L525.34,226.88 L526.11,226.79 L526.87,226.69 L527.63,226.60 L528.39,226.50 L529.15,226.41 L529.91,226.32 L530.67,226.22 L531.43,226.13 L532.19,226.04 L532.95,225.95 L533.71,225.86 L534.47,225.78 L535.23,225.69 L535.99,225.60 L536.76,225.52 L537.52,225.43 L538.28,225.35 L539.04,225.27 L539.80,225.18 L540.56,225.10 L541.32,225.02 L542.08,224.94 L542.84,224.86 L543.60,224.78 L544.36,224.70 L545.12,224.63 L545.88,224.55 L546.65,224.47 L547.41,224.40 L548.17,224.32 L548.93,224.25 L549.69,224.18 L550.45,224.10 L551.21,224.03 L551.97,223.96 L552.73,223.89 L553.49,223.82 L554.25,223.75 L555.01,223.68 L555.77,223.61 L556.53,223.54 L557.30,223.47 L558.06,223.41 L558.82,223.34 L559.58,223.27 L560.34,223.21 L561.10,223.14 L561.86,223.08 L562.62,223.01 L563.38,222.95 L564.14,222.89 L564.90,222.82 L565.66,222.76 L566.42,222.70 L567.19,222.64 L567.95,222.58 L568.71,222.52 L569.47,222.46 L570.23,222.40 L570.99,222.34 L571.75,222.28 L572.51,222.22 L573.27,222.17 L574.03,222.11 L574.79,222.05 L575.55,222.00 L576.31,221.94 L577.08,221.88 L577.84,221.83 L578.60,221.77 L579.36,221.72 L580.12,221.66 L580.88,221.61 L581.64,221.56 L582.40,221.50 L583.16,221.45 L583.92,221.40 L584.68,221.35 L585.44,221.29 L586.20,221.24 L586.97,221.19 L587.73,221.14 L588.49,221.09 L589.25,221.04 L590.01,220.99 L590.77,220.94 L591.53,220.89 L592.29,220.84 L593.05,220.79 L593.81,220.75 L594.57,220.70 L595.33,220.65 L596.09,220.61 L596.85,220.56 L597.62,220.51 L598.38,220.47 L599.14,220.42 L599.90,220.38 L600.66,220.33 L601.42,220.29 L602.18,220.24 L602.94,220.20 L603.70,220.16 L604.46,220.11 L605.22,220.07 L605.98,220.03 L606.74,219.99 L607.51,219.94 L608.27,219.90 L609.03,219.86 L609.79,219.82 L610.55,219.78 L611.31,219.74 L612.07,219.70 L612.83,219.66 L613.59,219.62 L614.35,219.58 L615.11,219.54 L615.87,219.51 L616.63,219.47 L617.39,219.43 L618.16,219.39 L618.92,219.36 L619.68,219.32 L620.44,219.28 L621.20,219.25 L621.96,219.21 L622.72,219.18 L623.48,219.14 L624.24,219.11 L625.00,219.07 L625.76,219.04 L626.52,219.00 L627.28,218.97 L628.05,218.94 L628.81,218.90 L629.57,218.87 L630.33,218.84 L631.09,218.81 L631.85,218.78 L632.61,218.74 L633.37,218.71 L634.13,218.68 L634.89,218.65 L635.65,218.62 L636.41,218.59 L637.17,218.56 L637.94,218.53 L638.70,218.50 L639.46,218.48 L640.22,218.45 L640.98,218.42 L641.74,218.39 L642.50,218.36 L643.26,218.34 L644.02,218.31 L644.78,218.28 L645.54,218.26 L646.30,218.23 L647.06,218.20 L647.82,218.18 L648.59,218.15 L649.35,218.13 L650.11,218.10 L650.87,218.07 L651.63,218.04 L652.39,218.01 L653.15,217.98 L653.91,217.95 L654.67,217.92 L655.43,217.90 L656.19,217.87 L656.95,217.84 L657.71,217.81 L658.48,217.78 L659.24,217.75 L660.00,217.72 L660.76,217.70 L661.52,217.67 L662.28,217.64 L663.04,217.61 L663.80,217.59 L664.56,217.56 L665.32,217.53 L666.08,217.50 L666.84,217.48 L667.60,217.45 L668.37,217.42 L669.13,217.40 L669.89,217.37 L670.65,217.34 L671.41,217.31 L672.17,217.29 L672.93,217.26 L673.69,217.23 L674.45,217.21 L675.21,217.18 L675.97,217.15 L676.73,217.13 L677.49,217.10 L678.25,217.07 L679.02,217.05 L679.78,217.02 L680.54,216.99 L681.30,216.97 L682.06,216.94 L682.82,216.91 L683.58,216.88 L684.34,216.86 L685.10,216.83 L685.86,216.80 L686.62,216.77 L687.38,216.75 L688.14,216.72 L688.91,216.69 L689.67,216.66 L690.43,216.64 L691.19,216.61 L691.95,216.59 L692.71,216.57 L693.47,216.54 L694.23,216.52 L694.99,216.49 L695.75,216.47 L696.51,216.45 L697.27,216.42 L698.03,216.40 L698.80,216.37 L699.56,216.34 L700.32,216.32 L701.08,216.29 L701.84,216.27 L702.60,216.24 L703.36,216.21 L704.12,216.19 L704.88,216.16 L705.64,216.13 L706.40,216.10 L707.16,216.08 L707.92,216.05 L708.68,216.02 L709.45,215.99 L710.21,215.96 L710.97,215.93 L711.73,215.90 L712.49,215.87 L713.25,215.84 L714.01,215.81 L714.77,215.78 L715.53,215.75 L716.29,215.72 L717.05,215.69 L717.81,215.65 L718.57,215.62 L719.34,215.59 L720.10,215.55 L720.86,215.52 L721.62,215.49 L722.38,215.45 L723.14,215.42 L723.90,215.38" stroke="#ff0000" stroke-width="2.0" fill="none" stroke-linejoin="round"/>
<path d="M115.30,10.30 L116.06,10.53 L116.82,10.59 L117.58,10.64 L118.34,10.70 L119.10,10.77 L119.86,10.83 L120.63,10.90 L121.39,10.97 L122.15,11.04 L122.91,11.12 L123.67,11.20 L124.43,11.28 L125.19,11.36 L125.95,11.45 L126.71,11.54 L127.47,11.63 L128.23,11.73 L128.99,11.82 L129.75,11.93 L130.51,12.03 L131.28,12.14 L132.04,12.25 L132.80,12.36 L133.56,12.48 L134.32,12.60 L135.08,12.72 L135.84,12.85 L136.60,12.98 L137.36,13.11 L138.12,13.25 L138.88,13.39 L139.64,13.53 L140.40,13.68 L141.17,13.83 L141.93,13.98 L142.69,14.14 L143.45,14.30 L144.21,14.47 L144.97,14.64 L145.73,14.81 L146.49,14.98 L147.25,15.16 L148.01,15.35 L148.77,15.53 L149.53,15.72 L150.29,15.92 L151.06,16.11 L151.82,16.32 L152.58,16.52 L153.34,16.73 L154.10,16.95 L154.86,17.16 L155.62,17.38 L156.38,17.61 L157.14,17.84 L157.90,18.07 L158.66,18.31 L159.42,18.56 L160.18,18.80 L160.94,19.05 L161.71,19.31 L162.47,19.57 L163.23,19.83 L163.99,20.10 L164.75,20.37 L165.51,20.65 L166.27,20.93 L167.03,21.22 L167.79,21.51 L168.55,21.80 L169.31,22.10 L170.07,22.41 L170.83,22.71 L171.60,23.03 L172.36,23.35 L173.12,23.67 L173.88,24.00 L174.64,24.33 L175.40,24.67 L176.16,25.01 L176.92,25.36 L177.68,25.71 L178.44,26.06 L179.20,26.43 L179.96,26.79 L180.72,27.17 L181.49,27.54 L182.25,27.92 L183.01,28.31 L183.77,28.70 L184.53,29.10 L185.29,29.50 L186.05,29.91 L186.81,30.32 L187.57,30.74 L188.33,31.17 L189.09,31.59 L189.85,32.03 L190.61,32.46 L191.38,32.91 L192.14,33.35 L192.90,33.81 L193.66,34.26 L194.42,34.73 L195.18,35.19 L195.94,35.66 L196.70,36.14 L197.46,36.62 L198.22,37.10 L198.98,37.59 L199.74,38.08 L200.50,38.58 L201.26,39.08 L202.03,39.59 L202.79,40.10 L203.55,40.61 L204.31,41.13 L205.07,41.65 L205.83,42.18 L206.59,42.71 L207.35,43.24 L208.11,43.78 L208.87,44.32 L209.63,44.86 L210.39,45.41 L211.15,45.97 L211.92,46.52 L212.68,47.08 L213.44,47.65 L214.20,48.21 L214.96,48.78 L215.72,49.36 L216.48,49.93 L217.24,50.51 L218.00,51.10 L218.76,51.68 L219.52,52.27 L220.28,52.87 L221.04,53.46 L221.81,54.06 L222.57,54.66 L223.33,55.27 L224.09,55.88 L224.85,56.49 L225.61,57.10 L226.37,57.72 L227.13,58.33 L227.89,58.96 L228.65,59.58 L229.41,60.21 L230.17,60.84 L230.93,61.47 L231.69,62.10 L232.46,62.74 L233.22,63.38 L233.98,64.02 L234.74,64.66 L235.50,65.31 L236.26,65.95 L237.02,66.60 L237.78,67.26 L238.54,67.91 L239.30,68.56 L240.06,69.22 L240.82,69.88 L241.58,70.54 L242.35,71.20 L243.11,71.86 L243.87,72.53 L244.63,73.19 L245.39,73.86 L246.15,74.53 L246.91,75.19 L247.67,75.86 L248.43,76.54 L249.19,77.21 L249.95,77.88 L250.71,78.55 L251.47,79.23 L252.24,79.90 L253.00,80.58 L253.76,81.26 L254.52,81.93 L255.28,82.61 L256.04,83.29 L256.80,83.97 L257.56,84.65 L258.32,85.32 L259.08,86.00 L259.84,86.68 L260.60,87.36 L261.36,88.05 L262.12,88.73 L262.89,89.41 L263.65,90.09 L264.41,90.77 L265.17,91.46 L265.93,92.14 L266.69,92.82 L267.45,93.51 L268.21,94.19 L268.97,94.88 L269.73,95.56 L270.49,96.25 L271.25,96.94 L272.01,97.62 L272.78,98.31 L273.54,99.00 L274.30,99.68 L275.06,100.37 L275.82,101.06 L276.58,101.75 L277.34,102.44 L278.10,103.13 L278.86,103.82 L279.62,104.51 L280.38,105.20 L281.14,105.89 L281.90,106.58 L282.67,107.27 L283.43,107.96 L284.19,108.65 L284.95,109.34 L285.71,110.03 L286.47,110.72 L287.23,111.42 L287.99,112.11 L288.75,112.80 L289.51,113.49 L290.27,114.19 L291.03,114.88 L291.79,115.57 L292.55,116.27 L293.32,116.96 L294.08,117.66 L294.84,118.35 L295.60,119.04 L296.36,119.74 L297.12,120.43 L297.88,121.13 L298.64,121.82 L299.40,122.52 L300.16,123.21 L300.92,123.91 L301.68,124.60 L302.44,125.30 L303.21,125.99 L303.97,126.69 L304.73,127.38 L305.49,128.08 L306.25,128.77 L307.01,129.47 L307.77,130.17 L308.53,130.86 L309.29,131.56 L310.05,132.25 L310.81,132.95 L311.57,133.65 L312.33,134.34 L313.10,135.04 L313.86,135.73 L314.62,136.43 L315.38,137.13 L316.14,137.82 L316.90,138.52 L317.66,139.21 L318.42,139.91 L319.18,140.60 L319.94,141.30 L320.70,142.01 L321.46,142.73 L322.22,143.44 L322.98,144.15 L323.75,144.87 L324.51,145.58 L325.27,146.29 L326.03,147.00 L326.79,147.72 L327.55,148.43 L328.31,149.14 L329.07,149.85 L329.83,150.56 L330.59,151.27 L331.35,151.98 L332.11,152.69 L332.87,153.40 L333.64,154.11 L334.40,154.82 L335.16,155.53 L335.92,156.24 L336.68,156.94 L337.44,157.65 L338.20,158.35 L338.96,159.06 L339.72,159.76 L340.48,160.44 L341.24,161.11 L342.00,161.78 L342.76,162.45 L343.53,163.11 L344.29,163.78 L345.05,164.44 L345.81,165.10 L346.57,165.77 L347.33,166.43 L348.09,167.09 L348.85,167.74 L349.61,168.40 L350.37,169.06 L351.13,169.71 L351.89,170.37 L352.65,171.02 L353.41,171.67 L354.18,172.32 L354.94,172.97 L355.70,173.61 L356.46,174.25 L357.22,174.89 L357.98,175.53 L358.74,176.17 L359.50,176.80 L360.26,177.43 L361.02,178.07 L361.78,178.70 L362.54,179.32 L363.30,179.95 L364.07,180.57 L364.83,181.20 L365.59,181.82 L366.35,182.44 L367.11,183.06 L367.87,183.67 L368.63,184.29 L369.39,184.90 L370.15,185.51 L370.91,186.12 L371.67,186.72 L372.43,187.33 L373.19,187.95 L373.96,188.56 L374.72,189.17 L375.48,189.77 L376.24,190.38 L377.00,190.98 L377.76,191.58 L378.52,192.18 L379.28,192.78 L380.04,193.37 L380.80,193.96 L381.56,194.55 L382.32,195.14 L383.08,195.72 L383.84,196.31 L384.61,196.89 L385.37,197.46 L386.13,198.04 L386.89,198.61 L387.65,199.18 L388.41,199.75 L389.17,200.31 L389.93,200.88 L390.69,201.44 L391.45,201.99 L392.21,202.55 L392.97,203.10 L393.73,203.65 L394.50,204.19 L395.26,204.74 L396.02,205.28 L396.78,205.82 L397.54,206.35 L398.30,206.89 L399.06,207.42 L399.82,207.94 L400.58,208.47 L401.34,209.01 L402.10,209.53 L402.86,210.06 L403.62,210.58 L404.39,211.10 L405.15,211.62 L405.91,212.13 L406.67,212.64 L407.43,213.15 L408.19,213.66 L408.95,214.16 L409.71,214.66 L410.47,215.16 L411.23,215.66 L411.99,216.15 L412.75,216.64 L413.51,217.13 L414.27,217.61 L415.04,218.10 L415.80,218.57 L416.56,219.05 L417.32,219.53 L418.08,220.00 L418.84,220.47 L419.60,220.93 L420.36,221.40 L421.12,221.86 L421.88,222.32 L422.64,222.77 L423.40,223.22 L424.16,223.68 L424.93,224.12 L425.69,224.57 L426.45,225.01 L427.21,225.45 L427.97,225.89 L428.73,226.32 L429.49,226.75 L430.25,227.18 L431.01,227.61 L431.77,228.03 L432.53,228.45 L433.29,228.87 L434.05,229.29 L434.82,229.70 L435.58,230.11 L436.34,230.52 L437.10,230.93 L437.86,231.33 L438.62,231.73 L439.38,232.13 L440.14,232.52 L440.90,232.91 L441.66,233.30 L442.42,233.69 L443.18,234.08 L443.94,234.46 L444.70,234.84 L445.47,235.21 L446.23,235.59 L446.99,235.96 L447.75,236.33 L448.51,236.69 L449.27,237.06 L450.03,237.42 L450.79,237.78 L451.55,238.13 L452.31,238.48 L453.07,238.83 L453.83,239.18 L454.59,239.53 L455.36,239.87 L456.12,240.21 L456.88,240.55 L457.64,240.88 L458.40,241.21 L459.16,241.54 L459.92,241.87 L460.68,242.19 L461.44,242.51 L462.20,242.83 L462.96,243.15 L463.72,243.46 L464.48,243.77 L465.25,244.08 L466.01,244.39 L466.77,244.69 L467.53,244.99 L468.29,245.29 L469.05,245.59 L469.81,245.88 L470.57,246.17 L471.33,246.46 L472.09,246.74 L472.85,247.03 L473.61,247.31 L474.37,247.58 L475.13,247.86 L475.90,248.13 L476.66,248.40 L477.42,248.67 L478.18,248.94 L478.94,249.20 L479.70,249.46 L480.46,249.72 L481.22,249.97 L481.98,250.22 L482.74,250.48 L483.50,250.72 L484.26,250.97 L485.02,251.21 L485.79,251.45 L486.55,251.69 L487.31,251.93 L488.07,252.16 L488.83,252.39 L489.59,252.62 L490.35,252.84 L491.11,253.07 L491.87,253.29 L492.63,253.51 L493.39,253.72 L494.15,253.94 L494.91,254.15 L495.68,254.36 L496.44,254.56 L497.20,254.77 L497.96,254.97 L498.72,255.17 L499.48,255.37 L500.24,255.56 L501.00,255.75 L501.76,255.94 L502.52,256.13 L503.28,256.32 L504.04,256.50 L504.80,256.68 L505.56,256.86 L506.33,257.04 L507.09,257.21 L507.85,257.38 L508.61,257.55 L509.37,257.72 L510.13,257.88 L510.89,258.05 L511.65,258.21 L512.41,258.36 L513.17,258.52 L513.93,258.67 L514.69,258.82 L515.45,258.97 L516.22,259.12 L516.98,259.26 L517.74,259.41 L518.50,259.55 L519.26,259.68 L520.02,259.82 L520.78,259.96 L521.54,260.11 L522.30,260.25 L523.06,260.38 L523.82,260.52 L524.58,260.65 L525.34,260.78 L526.11,260.91 L526.87,261.04 L527.63,261.16 L528.39,261.29 L529.15,261.41 L529.91,261.53 L530.67,261.64 L531.43,261.76 L532.19,261.87 L532.95,261.98 L533.71,262.09 L534.47,262.19 L535.23,262.29 L535.99,262.40 L536.76,262.50 L537.52,262.59 L538.28,262.69 L539.04,262.78 L539.80,262.87 L540.56,262.95 L541.32,263.03 L542.08,263.10 L542.84,263.17 L543.60,263.24 L544.36,263.31 L545.12,263.38 L545.88,263.44 L546.65,263.50 L547.41,263.57 L548.17,263.62 L548.93,263.68 L549.69,263.73 L550.45,263.79 L551.21,263.84 L551.97,263.89 L552.73,263.93 L553.49,263.98 L554.25,264.02 L555.01,264.07 L555.77,264.11 L556.53,264.14 L557.30,264.18 L558.06,264.22 L558.82,264.25 L559.58,264.28 L560.34,264.31 L561.10,264.34 L561.86,264.37 L562.62,264.39 L563.38,264.41 L564.14,264.44 L564.90,264.46 L565.66,264.47 L566.42,264.49 L567.19,264.51 L567.95,264.52 L568.71,264.53 L569.47,264.54 L570.23,264.55 L570.99,264.56 L571.75,264.56 L572.51,264.57 L573.27,264.57 L574.03,264.57 L574.79,264.57 L575.55,264.57 L576.31,264.57 L577.08,264.56 L577.84,264.56 L578.60,264.55 L579.36,264.54 L580.12,264.53 L580.88,264.52 L581.64,264.51 L582.40,264.49 L583.16,264.48 L583.92,264.46 L584.68,264.44 L585.44,264.42 L586.20,264.40 L586.97,264.38 L587.73,264.36 L588.49,264.33 L589.25,264.31 L590.01,264.28 L590.77,264.25 L591.53,264.22 L592.29,264.19 L593.05,264.16 L593.81,264.13 L594.57,264.09 L595.33,264.06 L596.09,264.02 L596.85,263.98 L597.62,263.95 L598.38,263.91 L599.14,263.87 L599.90,263.82 L600.66,263.78 L601.42,263.74 L602.18,263.69 L602.94,263.65 L603.70,263.60 L604.46,263.55 L605.22,263.50 L605.98,263.45 L606.74,263.40 L607.51,263.35 L608.27,263.30 L609.03,263.25 L609.79,263.19 L610.55,263.14 L611.31,263.08 L612.07,263.02 L612.83,262.96 L613.59,262.90 L614.35,262.84 L615.11,262.78 L615.87,262.72 L616.63,262.66 L617.39,262.60 L618.16,262.53 L618.92,262.47 L619.68,262.40 L620.44,262.33 L621.20,262.27 L621.96,262.20 L622.72,262.13 L623.48,262.06 L624.24,261.99 L625.00,261.92 L625.76,261.85 L626.52,261.77 L627.28,261.70 L628.05,261.63 L628.81,261.55 L629.57,261.48 L630.33,261.40 L631.09,261.32 L631.85,261.25 L632.61,261.17 L633.37,261.09 L634.13,261.01 L634.89,260.93 L635.65,260.85 L636.41,260.77 L637.17,260.69 L637.94,260.61 L638.70,260.52 L639.46,260.44 L640.22,260.36 L640.98,260.27 L641.74,260.19 L642.50,260.10 L643.26,260.02 L644.02,259.93 L644.78,259.84 L645.54,259.76 L646.30,259.67 L647.06,259.58 L647.82,259.49 L648.59,259.40 L649.35,259.31 L650.11,259.22 L650.87,259.13 L651.63,259.03 L652.39,258.93 L653.15,258.83 L653.91,258.73 L654.67,258.63 L655.43,258.53 L656.19,258.43 L656.95,258.33 L657.71,258.23 L658.48,258.13 L659.24,258.03 L660.00,257.92 L660.76,257.82 L661.52,257.72 L662.28,257.62 L663.04,257.51 L663.80,257.41 L664.56,257.31 L665.32,257.20 L666.08,257.10 L666.84,257.00 L667.60,256.89 L668.37,256.79 L669.13,256.68 L669.89,256.58 L670.65,256.47 L671.41,256.37 L672.17,256.26 L672.93,256.16 L673.69,256.05 L674.45,255.95 L675.21,255.84 L675.97,255.73 L676.73,255.63 L677.49,255.52 L678.25,255.42 L679.02,255.31 L679.78,255.20 L680.54,255.10 L681.30,255.00 L682.06,254.91 L682.82,254.81 L683.58,254.71 L684.34,254.61 L685.10,254.51 L685.86,254.41 L686.62,254.31 L687.38,254.21 L688.14,254.11 L688.91,254.01 L689.67,253.91 L690.43,253.81 L691.19,253.71 L691.95,253.61 L692.71,253.51 L693.47,253.41 L694.23,253.31 L694.99,253.21 L695.75,253.11 L696.51,253.01 L697.27,252.91 L698.03,252.81 L698.80,252.72 L699.56,252.62 L700.32,252.52 L701.08,252.42 L701.84,252.32 L702.60,252.22 L703.36,252.12 L704.12,252.02 L704.88,251.92 L705.64,251.82 L706.40,251.72 L707.16,251.62 L707.92,251.52 L708.68,251.42 L709.45,251.32 L710.21,251.22 L710.97,251.12 L711.73,251.03 L712.49,250.93 L713.25,250.83 L714.01,250.73 L714.77,250.63 L715.53,250.53 L716.29,250.43 L717.05,250.34 L717.81,250.24 L718.57,250.14 L719.34,250.04 L720.10,249.94 L720.86,249.85 L721.62,249.75 L722.38,249.65 L723.14,249.56 L723.90,249.46" stroke="#00aa00" stroke-width="2.0" fill="none" stroke-linejoin="round"/>
<line x1="155.00" y1="308.70" x2="161.22" y2="277.98" stroke="#0000ff" stroke-width="2.1"/><polygon points="164.40,262.30 168.56,283.55 161.22,277.98 152.29,280.25" fill="#0000ff"/>
<line x1="258.90" y1="308.70" x2="252.88" y2="278.00" stroke="#ff00ff" stroke-width="2.1"/><polygon points="249.80,262.30 261.79,280.33 252.88,278.00 245.50,283.52" fill="#ff00ff"/>
<line x1="400.85" y1="308.70" x2="387.99" y2="276.84" stroke="#ff0000" stroke-width="2.1"/><polygon points="382.00,262.00 397.18,277.44 387.99,276.84 381.79,283.65" fill="#ff0000"/>
<line x1="646.45" y1="299.40" x2="635.13" y2="277.07" stroke="#00aa00" stroke-width="2.1"/><polygon points="627.90,262.80 644.35,276.89 635.13,277.07 629.54,284.39" fill="#00aa00"/>
</svg>
<div class="t yl" style="top:-2.97px">1.0</div>
<div class="t yl" style="top:76.11px">0.8</div>
<div class="t yl" style="top:155.19px">0.6</div>
<div class="t yl" style="top:234.27px">0.4</div>
<div class="t yl" style="top:313.35px">0.2</div>
<div class="t xl" style="left:115.10px;top:430.03px">0</div>
<div class="t xl" style="left:267.25px;top:430.03px">50</div>
<div class="t xl" style="left:419.40px;top:430.03px">100</div>
<div class="t xl" style="left:571.55px;top:430.03px">150</div>
<div class="t xl" style="left:722.50px;top:430.03px">200</div>
<div class="t nl" style="left:136.13px;top:314.41px;color:#0000ff">N=40</div>
<div class="t nl" style="left:240.23px;top:314.41px;color:#ff00ff">N=160</div>
<div class="t nl" style="left:381.83px;top:314.41px;color:#ff0000">N=640</div>
<div class="t nl" style="left:608.33px;top:305.41px;color:#00aa00">N=2560</div>
<div class="t bi" style="left:2.07px;top:194.10px;font-size:35.2px;">P</div>
<div class="t bi" style="left:21.61px;top:213.66px;font-size:24.5px;">1</div>
<div class="t bi" style="left:365.30px;top:462.33px;font-size:33.4px;letter-spacing:-0.4px">t/t</div>
<div class="t " style="left:400.24px;top:476.60px;font-size:22.8px;">coh</div>
<div class="t bi" style="left:440.38px;top:464.39px;font-size:33.8px;">(</div>
<div class="t bi" style="left:451.60px;top:462.33px;font-size:33.4px;">N</div>
<div class="t bi" style="left:477.27px;top:464.39px;font-size:33.8px;">)</div>
</div></body></html>
